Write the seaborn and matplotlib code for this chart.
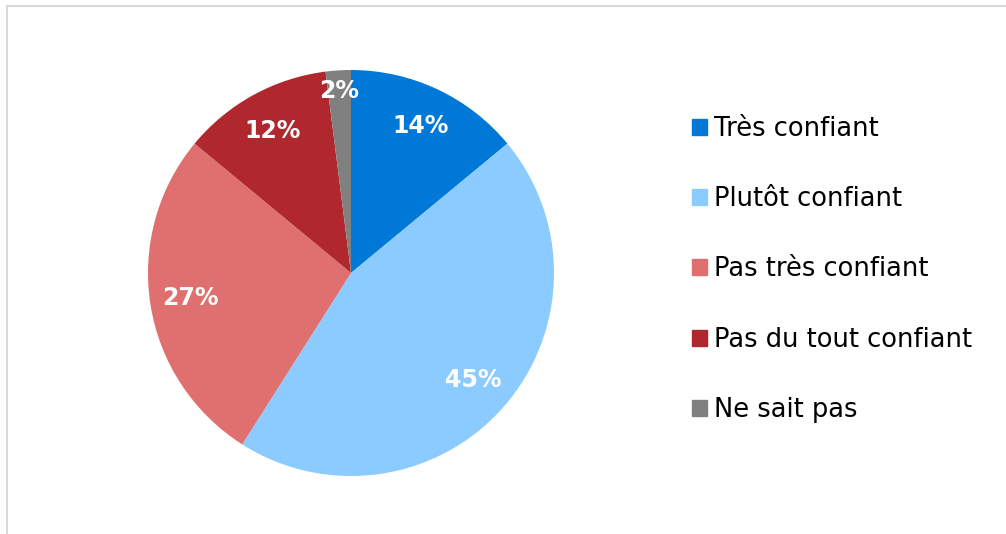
import matplotlib
matplotlib.use('Agg')
import matplotlib.pyplot as plt
import matplotlib.patches as mpatches
import matplotlib.lines as mlines
import seaborn as sns

sns.set_theme(style='white')
plt.rcParams['font.family'] = ['DejaVu Sans']

#%% Data
categories = ['Très confiant', 'Plutôt confiant', 'Pas très confiant',
              'Pas du tout confiant', 'Ne sait pas']
shares = [14, 45, 27, 12, 2]
colors = ['#0078D7', '#8BCBFF', '#E07070', '#B0282E', '#808080']

#%% Figure
W, H = 1006, 534
fig = plt.figure(figsize=(W / 100, H / 100), dpi=100)

# light chart frame (top and left edges visible)
fig.add_artist(mlines.Line2D([7 / W, 1], [1 - 6 / H, 1 - 6 / H],
                             transform=fig.transFigure, color='#d9d9d9', lw=1.5))
fig.add_artist(mlines.Line2D([7 / W, 7 / W], [0, 1 - 6 / H],
                             transform=fig.transFigure, color='#d9d9d9', lw=1.5))

cx, cy, r = 351, 273, 203
ax = fig.add_axes([(cx - r) / W, (H - cy - r) / H, 2 * r / W, 2 * r / H])

wedges, texts, autotexts = ax.pie(
    shares, colors=colors, startangle=90, counterclock=False,
    autopct='%d%%', pctdistance=0.8, radius=1,
    wedgeprops=dict(linewidth=0),
    textprops=dict(color='white', fontsize=17, fontweight='bold'))

# small slice label sits a bit further out
x, y = autotexts[-1].get_position()
autotexts[-1].set_position((x * 0.9 / 0.8, y * 0.9 / 0.8))

ax.set_xlim(-1, 1)
ax.set_ylim(-1, 1)
ax.set_aspect('equal')
ax.axis('off')

handles = [mpatches.Patch(color=c, label=l) for c, l in zip(colors, categories)]
leg = fig.legend(handles=handles, loc='upper left',
                 bbox_to_anchor=(692 / W, 1 - 116 / H), frameon=False,
                 fontsize=18.5, handlelength=0.58, handleheight=0.58,
                 handletextpad=0.28, labelspacing=1.72, borderpad=0,
                 borderaxespad=0)
for t in leg.get_texts():
    t.set_color('black')

fig.savefig('out.png', dpi=100, facecolor='white')
